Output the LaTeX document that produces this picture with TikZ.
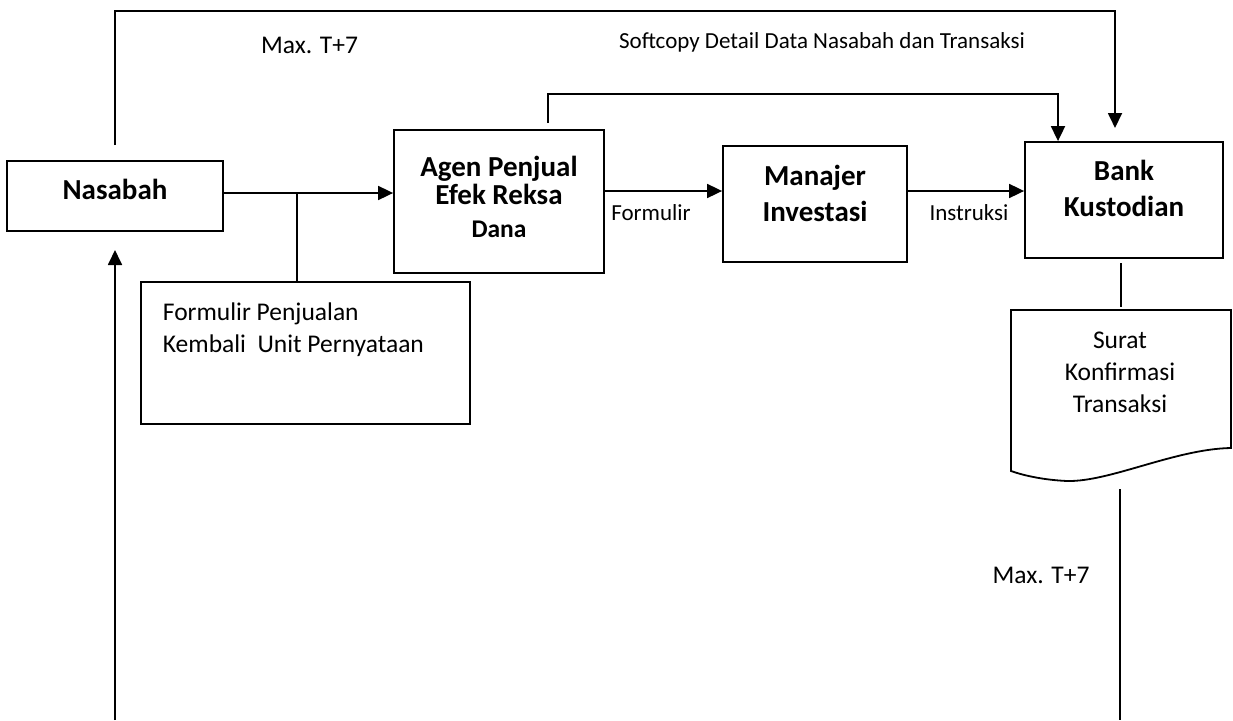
\documentclass[tikz,border=0pt]{standalone}
\usepackage{fontspec}
\setmainfont{Carlito}
\usetikzlibrary{arrows.meta}
\begin{document}
\begin{tikzpicture}[x=1pt,y=-1pt,line width=1.8pt,
  box/.style={draw,line width=1.8pt,inner sep=0pt},
  bt/.style={font=\fontsize{29}{35}\selectfont\bfseries,anchor=base,inner sep=0pt},
  bts/.style={font=\fontsize{25.5}{30}\selectfont\bfseries,anchor=base,inner sep=0pt},
  lt/.style={font=\fontsize{25.5}{30}\selectfont,anchor=base,inner sep=0pt},
  st/.style={font=\fontsize{23}{28}\selectfont,anchor=base,inner sep=0pt},
  arr/.style={-{Triangle[length=15pt,width=14pt]}}]
\useasboundingbox (0,0) rectangle (1233,720);

% boxes
\node[box,minimum width=216pt,minimum height=70pt] (nas) at (115,196) {};
\node[box,minimum width=210pt,minimum height=143pt] (agen) at (499,201.5) {};
\node[box,minimum width=184pt,minimum height=116pt] (man) at (815,204) {};
\node[box,minimum width=198pt,minimum height=116pt] (bank) at (1124,200) {};
\node[box,minimum width=329pt,minimum height=142pt] (form) at (305.5,353) {};

% document shape
\coordinate (docTL) at (1011,310);
\coordinate (docTR) at (1231,310);
\coordinate (docBR) at (1231,448);
\coordinate (docLow) at (1067,481);
\coordinate (docBL) at (1011,471);
\draw (docTL) -- (docTR) -- (docBR) .. controls (1175,449) and (1110,482) .. (docLow)
  .. controls (1045,480) and (1025,476) .. (docBL) -- cycle;

% texts in boxes
\node[bt] (nasT) at (115,199) {Nasabah};
\node[bt] (agT1) at (499,176) {Agen Penjual};
\node[bt] (agT2) at (499,204) {Efek Reksa};
\node[bts] (agT3) at (499,237) {Dana};
\node[bt] (manT1) at (815,185) {Manajer};
\node[bt] (manT2) at (815,221) {Investasi};
\node[bt] (bankT1) at (1124,180) {Bank};
\node[bt] (bankT2) at (1124,216) {Kustodian};
\node[lt,anchor=base west] (formT1) at (162,320) {Formulir Penjualan};
\node[lt,anchor=base west] (formT2) at (162,352) {Kembali\ \ Unit Pernyataan};
\node[lt] (docT1) at (1120,348) {Surat};
\node[lt] (docT2) at (1120,380) {Konfirmasi};
\node[lt] (docT3) at (1120,412) {Transaksi};

% labels
\node[lt] (maxTop) at (309.5,53) {Max. T+7};
\node[st] (soft) at (822,48) {Softcopy Detail Data Nasabah dan Transaksi};
\node[st] (lblForm) at (651,220) {Formulir};
\node[st] (lblInst) at (969,220) {Instruksi};
\node[lt] (maxBot) at (1041,583) {Max. T+7};

% connectors
\coordinate (yA) at (0,193);
\coordinate (yB) at (0,191);
\draw[arr] (nas.east |- yA) -- (agen.west |- yA);
\coordinate (br) at (297,193);
\draw (br) -- (br |- form.north);

\coordinate (nasUp) at (115,145);
\coordinate (tl) at (115,11);
\coordinate (tr) at (1115,11);
\coordinate (tip2) at (1115,128);
\draw[arr] (nasUp) -- (tl) -- (tr) -- (tip2);

\coordinate (agUp) at (548,123);
\coordinate (agTop) at (548,94);
\coordinate (bkTop) at (1058,94);
\draw[arr] (agUp) -- (agTop) -- (bkTop) -- (bkTop |- bank.north);

\draw[arr] (agen.east |- yB) -- (man.west |- yB);
\draw[arr] (man.east |- yB) -- (bank.west |- yB);

\coordinate (bkDown) at (1121,263);
\coordinate (docIn) at (1121,307);
\draw (bkDown) -- (docIn);

\coordinate (docOut) at (1120,489);
\coordinate (botR) at (1120,720);
\draw (docOut) -- (botR);

\coordinate (botL) at (115,720);
\coordinate (nasIn) at (115,250);
\draw[arr] (botL) -- (nasIn);
\end{tikzpicture}
\end{document}
